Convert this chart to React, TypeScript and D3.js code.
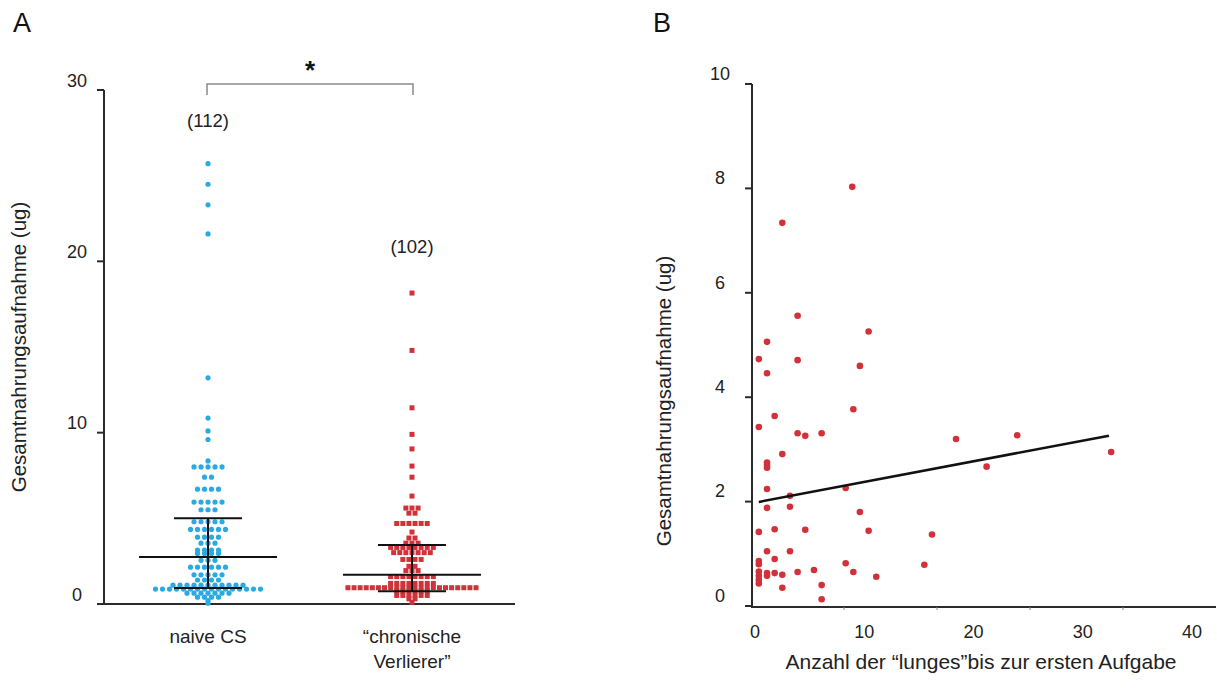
import React from "react";
import * as d3 from "d3";

// ---------- Panel A data ----------
const groups = ["naive CS", "“chronische Verlierer”"];
const groupLabelLines = [["naive CS"], ["“chronische", "Verlierer”"]];
const groupN = ["(112)", "(102)"];

const naiveValues = [
  25.7, 24.5, 23.3, 21.6, 13.2, 10.85, 10.1, 9.6,
  8.35, 8.0, 8.0, 8.0, 8.0, 8.0,
  7.4, 7.4,
  6.7, 6.7, 6.7, 6.7,
  5.95, 5.95, 5.95, 5.95, 5.95,
  5.5, 5.5, 5.5,
  4.8, 4.8, 4.8, 4.8, 4.8,
  4.35, 4.35, 4.35, 4.35, 4.35, 4.35,
  3.9, 3.9, 3.9, 3.9,
  3.55, 3.55, 3.55,
  3.15, 3.15, 3.15, 3.15,
  2.95, 2.95, 2.95, 2.95,
  2.55, 2.55, 2.55,
  2.15, 2.15, 2.15, 2.15, 2.15, 2.15,
  1.7, 1.7, 1.7, 1.7, 1.7,
  1.4, 1.4, 1.4, 1.4,
  1.1, 1.1, 1.1, 1.1, 1.1, 1.1, 1.1, 1.1, 1.1, 1.1, 1.1,
  0.87, 0.87, 0.87, 0.87, 0.87, 0.87, 0.87, 0.87, 0.87, 0.87, 0.87, 0.87, 0.87, 0.87, 0.87, 0.87,
  0.63, 0.63, 0.63, 0.63, 0.63, 0.63, 0.63,
  0.4, 0.4, 0.4, 0.4,
  0.2,
  0.05,
];

const loserValues = [
  18.15, 14.8, 11.45, 9.9, 9.05, 8.05, 7.4, 6.3,
  5.6, 5.6, 5.6,
  5.3, 5.3,
  4.7, 4.7, 4.7, 4.7, 4.7, 4.7,
  4.2,
  3.85, 3.85,
  3.55, 3.55, 3.55,
  3.3, 3.3, 3.3, 3.3, 3.3, 3.3, 3.3, 3.3,
  3.0, 3.0, 3.0, 3.0, 3.0, 3.0, 3.0,
  2.6, 2.6, 2.6, 2.6,
  2.2, 2.2,
  1.95, 1.95, 1.95,
  1.6, 1.6, 1.6, 1.6, 1.6, 1.6, 1.6, 1.6,
  1.2, 1.2, 1.2, 1.2, 1.2, 1.2, 1.2, 1.2,
  0.95, 0.95, 0.95, 0.95, 0.95, 0.95, 0.95, 0.95, 0.95, 0.95, 0.95,
  0.95, 0.95, 0.95, 0.95, 0.95, 0.95, 0.95, 0.95, 0.95, 0.95, 0.95,
  0.75, 0.75, 0.75, 0.75, 0.75, 0.75,
  0.5, 0.5, 0.5, 0.5, 0.5, 0.5,
  0.3, 0.3,
  0.1,
];

const summaryCenter = [2.75, 1.7];
const summaryUpper = [5.0, 3.45];
const summaryLower = [0.93, 0.75];
const yTicksA = [0, 10, 20, 30];

// ---------- Panel B data ----------
const lungesX = [
  8.9, 2.5, 3.9, 10.4, 1.1, 0.35, 3.9, 9.6, 1.1, 1.8, 9.0, 0.35, 3.9, 4.6, 6.1, 2.5,
  1.1, 1.1, 1.1, 1.1, 3.2, 8.3, 3.2, 1.1, 9.6, 0.35, 1.8, 4.6, 10.4, 16.2, 1.1, 3.2,
  0.35, 0.35, 1.8, 8.3, 15.5, 1.1, 1.1, 1.8, 2.5, 3.9, 5.4, 9.0, 11.1, 0.35, 0.35,
  0.35, 0.35, 2.5, 6.1, 6.1, 18.4, 24.0, 21.2, 32.6,
];
const intakeY = [
  8.03, 7.34, 5.56, 5.26, 5.06, 4.73, 4.71, 4.6, 4.46, 3.64, 3.77, 3.43, 3.31, 3.26, 3.31, 2.91,
  2.75, 2.7, 2.65, 2.24, 2.11, 2.26, 1.9, 1.88, 1.8, 1.42, 1.47, 1.46, 1.44, 1.37, 1.05, 1.05,
  0.86, 0.8, 0.9, 0.82, 0.79, 0.63, 0.58, 0.63, 0.6, 0.65, 0.69, 0.65, 0.56, 0.66, 0.58,
  0.5, 0.43, 0.35, 0.4, 0.13, 3.2, 3.27, 2.67, 2.95,
];
const fitIntercept = 1.98;
const fitSlope = 0.0396;
const fitRange = [0.35, 32.4];
const xTicksB = [0, 10, 20, 30, 40];
const xTickMarksB = [10, 20, 30, 40];
const yTicksB = [0, 2, 4, 6, 8, 10];

const BLUE = "#2aaae2";
const RED = "#d1323a";
const AXIS = "#2b2b2b";
const FONT = "'Liberation Sans', Arial, sans-serif";

function swarm(values: number[], spacing: number) {
  const byVal = d3.group(values, (v) => v);
  const out: { v: number; dx: number }[] = [];
  for (const [v, arr] of byVal) {
    arr.forEach((_, k) => out.push({ v, dx: (k - (arr.length - 1) / 2) * spacing }));
  }
  return out;
}

export default function App() {
  // Panel A scales
  const yA = d3.scaleLinear().domain([0, 30]).range([604, 90]);
  const xA = d3.scalePoint<string>().domain(groups).range([104, 516]).padding(0.51);
  const barHalfWide = 69;
  const barHalfNarrow = 34;

  const naiveSwarm = swarm(naiveValues, 7);
  const loserSwarm = swarm(loserValues, 6.1);

  // Panel B scales
  const xB = d3.scaleLinear().domain([0, 40]).range([755, 1192]);
  const xBMarks = d3.scaleLinear().domain([0, 50]).range([751, 1216]);
  const yB = d3.scaleLinear().domain([0, 10]).range([606, 84]);

  const fitLine = d3
    .line<number>()
    .x((d) => xB(d))
    .y((d) => yB(fitIntercept + fitSlope * d));

  const cx0 = xA(groups[0])!;
  const cx1 = xA(groups[1])!;

  return (
    <svg
      width={1217}
      height={690}
      style={{ position: "absolute", left: 0, top: 0, background: "#fff" }}
      fontFamily={FONT}
    >
      {/* ---------------- Panel A ---------------- */}
      <text x={22} y={32} fontSize={27} textAnchor="middle" fill="#111">A</text>

      {/* y axis */}
      <line x1={104} x2={104} y1={yA(30)} y2={yA(0)} stroke={AXIS} strokeWidth={2} />
      {yTicksA.map((t) => (
        <g key={t}>
          <line x1={97} x2={104} y1={yA(t)} y2={yA(t)} stroke={AXIS} strokeWidth={2} />
          <text x={77} y={yA(t) - 8} fontSize={18} textAnchor="middle" dominantBaseline="middle" fill="#222">
            {t}
          </text>
        </g>
      ))}
      {/* x axis */}
      <line x1={97} x2={515} y1={yA(0)} y2={yA(0)} stroke={AXIS} strokeWidth={2} />

      <text
        transform={`translate(26,${347}) rotate(-90)`}
        fontSize={20.5}
        textAnchor="middle"
        fill="#222"
      >
        Gesamtnahrungsaufnahme (ug)
      </text>

      {/* dots */}
      {naiveSwarm.map((d, i) => (
        <circle key={"n" + i} cx={cx0 + d.dx} cy={yA(d.v)} r={2.6} fill={BLUE} />
      ))}
      {loserSwarm.map((d, i) => (
        <rect key={"l" + i} x={cx1 + d.dx - 2.5} y={yA(d.v) - 2.5} width={5} height={5} fill={RED} />
      ))}

      {/* summary bars */}
      {groups.map((g, i) => {
        const cx = xA(g)!;
        return (
          <g key={g} stroke="#111" strokeWidth={2}>
            <line x1={cx - barHalfWide} x2={cx + barHalfWide} y1={yA(summaryCenter[i])} y2={yA(summaryCenter[i])} />
            <line x1={cx - barHalfNarrow} x2={cx + barHalfNarrow} y1={yA(summaryUpper[i])} y2={yA(summaryUpper[i])} />
            <line x1={cx - barHalfNarrow} x2={cx + barHalfNarrow} y1={yA(summaryLower[i])} y2={yA(summaryLower[i])} />
            <line x1={cx} x2={cx} y1={yA(summaryUpper[i])} y2={yA(summaryLower[i])} />
          </g>
        );
      })}

      {/* n labels */}
      <text x={cx0} y={122} fontSize={18.5} textAnchor="middle" dominantBaseline="middle" fill="#222">{groupN[0]}</text>
      <text x={cx1} y={248} fontSize={18.5} textAnchor="middle" dominantBaseline="middle" fill="#222">{groupN[1]}</text>

      {/* significance bracket */}
      <path
        d={`M${cx0 - 1},95 V84 H${cx1 + 1} V95`}
        fill="none"
        stroke="#8a8a8a"
        strokeWidth={1.5}
      />
      <text x={(cx0 + cx1) / 2} y={79} fontSize={26} fontWeight="bold" textAnchor="middle" fill="#111">*</text>

      {/* category labels */}
      {groups.map((g, i) => (
        <text key={g} x={xA(g)!} y={643} fontSize={19} textAnchor="middle" fill="#222">
          {groupLabelLines[i].map((ln, k) => (
            <tspan key={k} x={xA(g)!} dy={k === 0 ? 0 : 25}>{ln}</tspan>
          ))}
        </text>
      ))}

      {/* ---------------- Panel B ---------------- */}
      <text x={662} y={32} fontSize={27} textAnchor="middle" fill="#111">B</text>

      <line x1={752} x2={752} y1={yB(10)} y2={607} stroke={AXIS} strokeWidth={2} />
      <line x1={751} x2={1216} y1={607} y2={607} stroke={AXIS} strokeWidth={2} />
      {yTicksB.map((t) => (
        <g key={t}>
          <line x1={745} x2={752} y1={yB(t)} y2={yB(t)} stroke={AXIS} strokeWidth={2} />
          <text x={720} y={yB(t) - 9} fontSize={18} textAnchor="middle" dominantBaseline="middle" fill="#222">
            {t}
          </text>
        </g>
      ))}
      {xTickMarksB.map((t) => (
        <line key={t} x1={xBMarks(t)} x2={xBMarks(t)} y1={607} y2={610} stroke="#888" strokeWidth={1} />
      ))}
      {xTicksB.map((t) => (
        <text key={t} x={xB(t)} y={633} fontSize={18} textAnchor="middle" dominantBaseline="middle" fill="#222">
          {t}
        </text>
      ))}

      <text
        transform={`translate(671,${401}) rotate(-90)`}
        fontSize={20.5}
        textAnchor="middle"
        fill="#222"
      >
        Gesamtnahrungsaufnahme (ug)
      </text>
      <text x={981} y={669} fontSize={21} textAnchor="middle" fill="#222">
        Anzahl der “lunges”bis zur ersten Aufgabe
      </text>

      {lungesX.map((x, i) => (
        <circle key={"b" + i} cx={xB(x)} cy={yB(intakeY[i])} r={3.3} fill={RED} />
      ))}

      <path d={fitLine(fitRange) || ""} fill="none" stroke="#111" strokeWidth={2.5} />
    </svg>
  );
}
